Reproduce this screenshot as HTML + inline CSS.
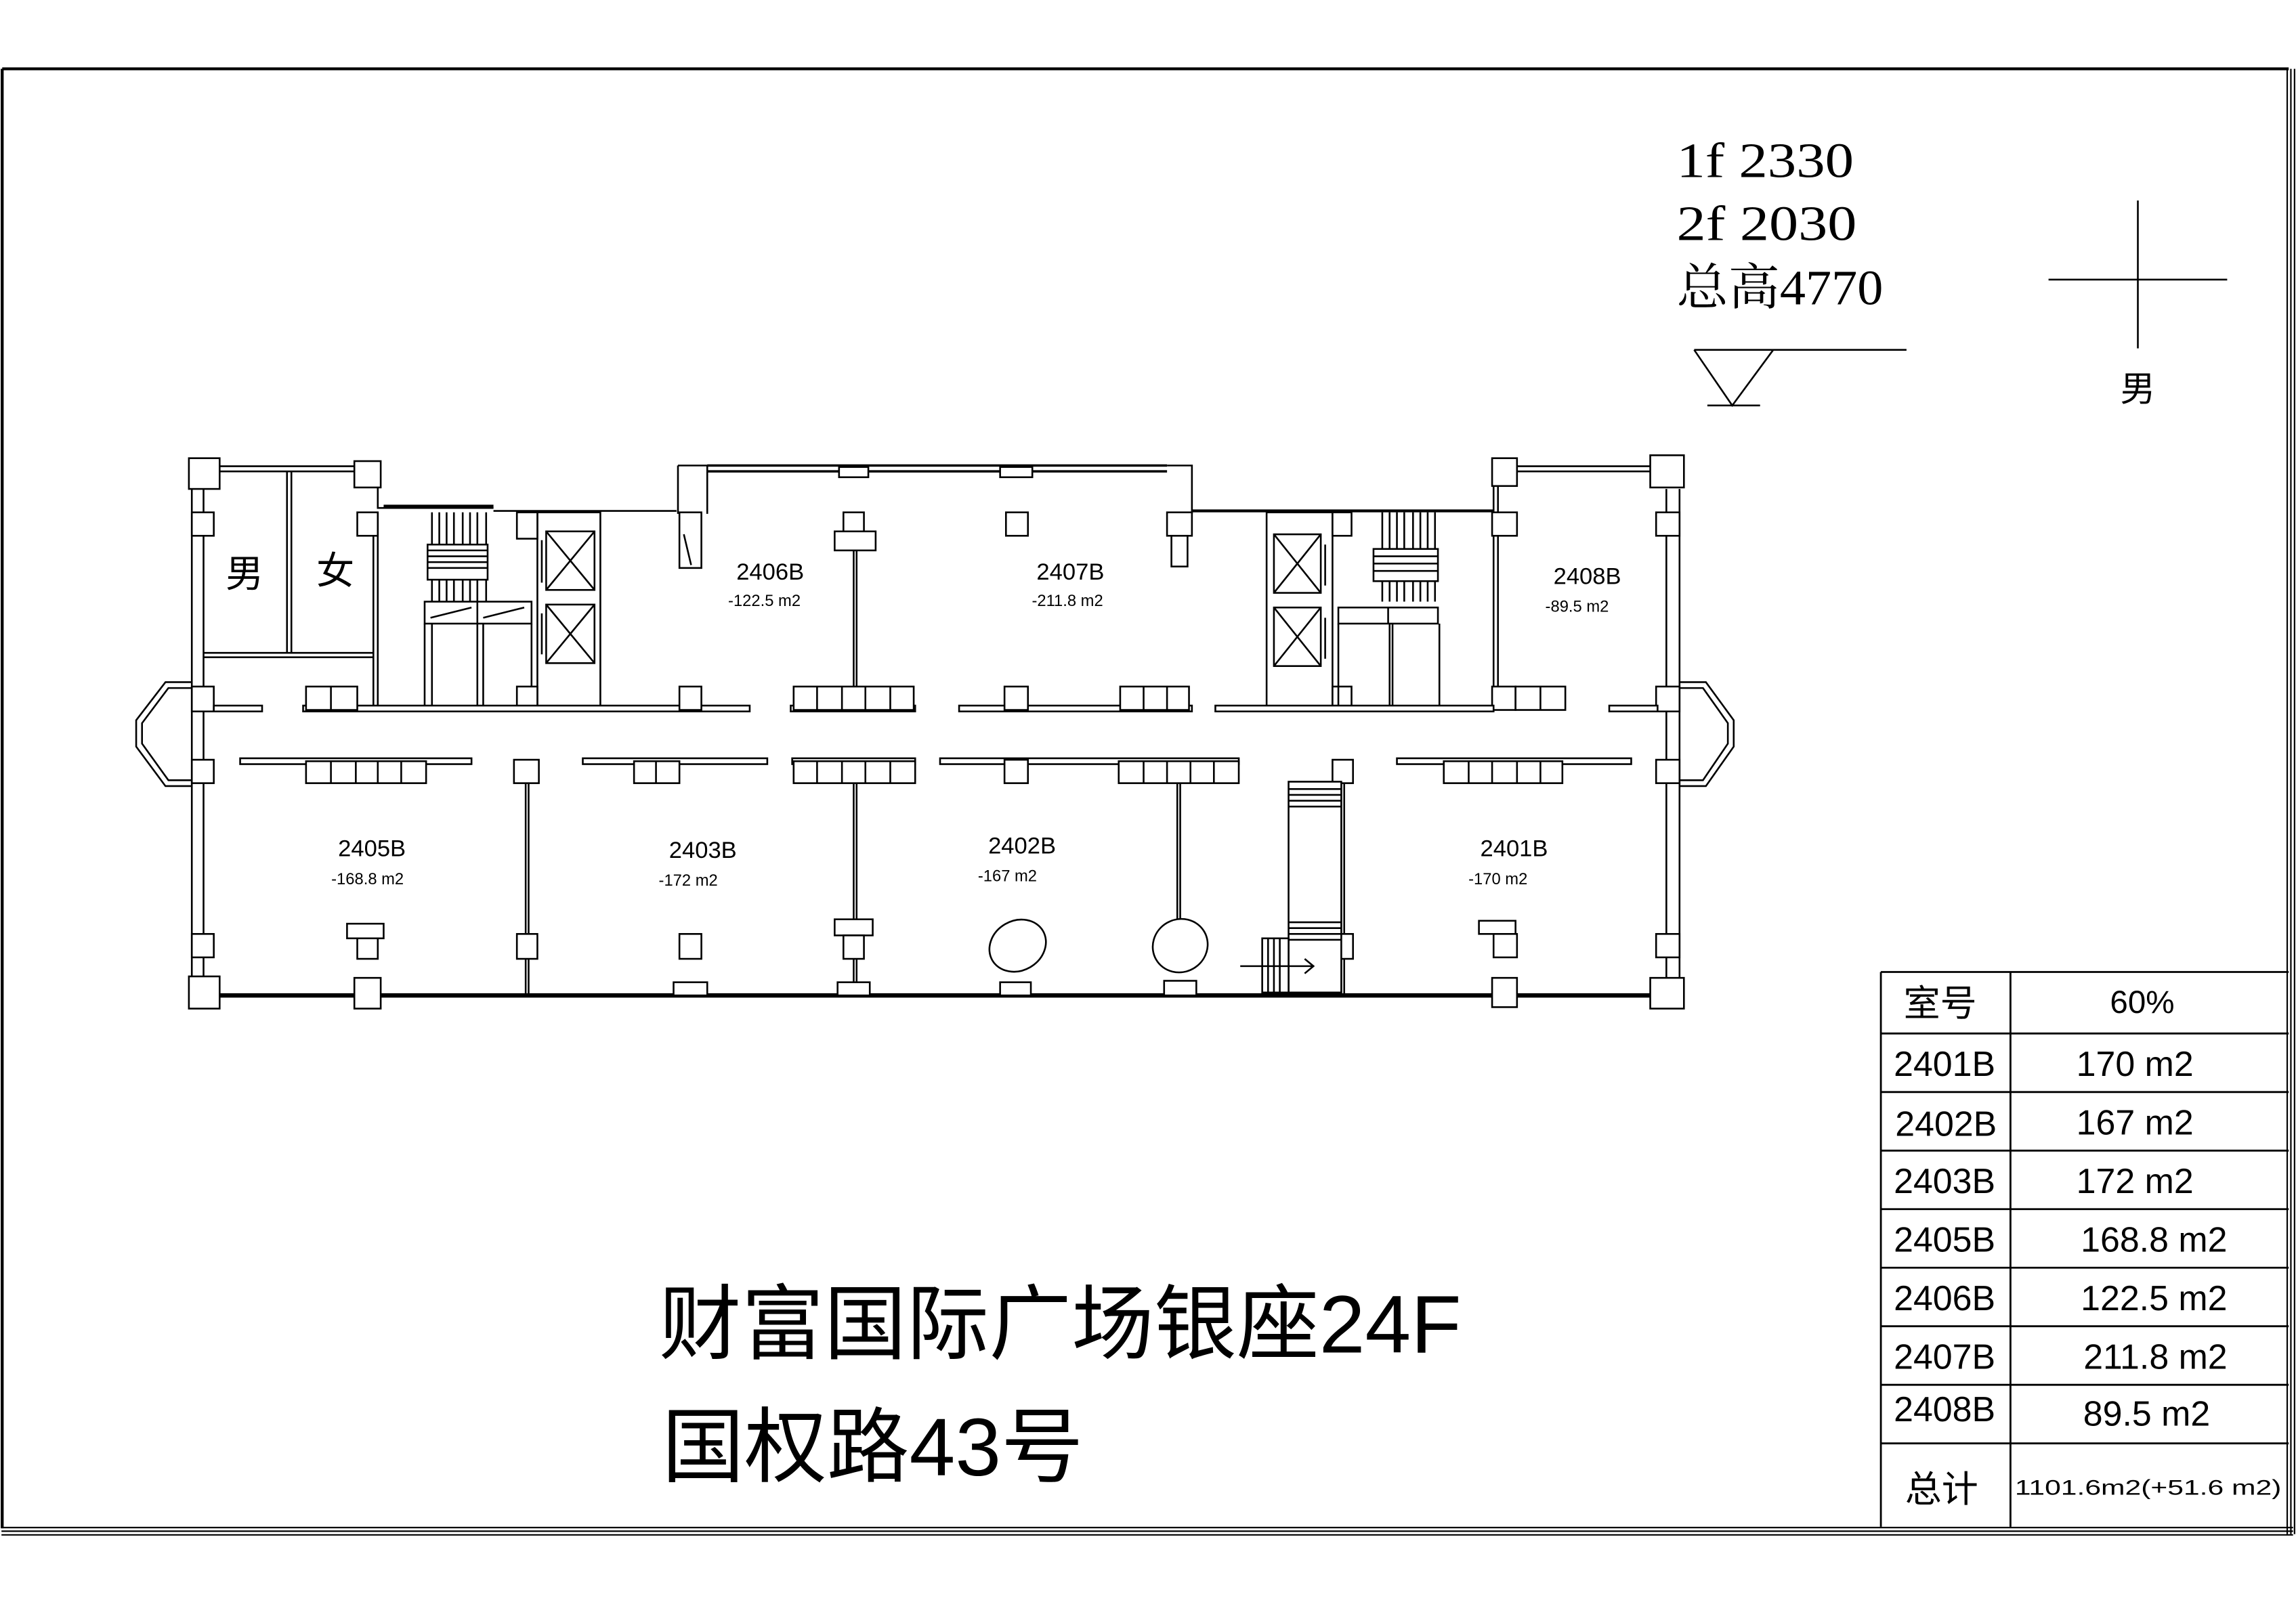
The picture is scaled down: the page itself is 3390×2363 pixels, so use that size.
<!DOCTYPE html>
<html><head><meta charset="utf-8"><style>
html,body{margin:0;padding:0;background:#fff;}
svg{display:block;}
text{font-family:"Liberation Sans","Noto Sans CJK SC",sans-serif;fill:#000;}
.s{font-family:"Liberation Serif","Noto Serif CJK SC",serif;}
</style></head><body>
<svg width="3390" height="2363" viewBox="0 0 1568 1093" preserveAspectRatio="none" xmlns="http://www.w3.org/2000/svg">
<g fill="none" stroke="#000" stroke-width="1.2">
<!-- frame -->
<path d="M1.5 47 H1563 M1.5 47 V1044" stroke-width="2"/>
<path d="M1 1043.5 H1566 M1 1046 H1566 M1 1048.5 H1566" stroke-width="1"/>
<path d="M1562 47 V1048 M1564.5 47 V1048 M1567 47 V1048" stroke-width="1"/>
<!-- level symbol & cross -->
<path d="M1157 239 H1302 M1157 239 L1183 277 L1211 239 M1166 277 H1202"/>
<path d="M1460 137 V238 M1399 191 H1521"/>
</g>
<text class="s" x="1145" y="121" font-size="34" textLength="121" lengthAdjust="spacingAndGlyphs">1f 2330</text>
<text class="s" x="1145" y="164" font-size="34" textLength="123" lengthAdjust="spacingAndGlyphs">2f 2030</text>
<text class="s" x="1145" y="208" font-size="34" textLength="141" lengthAdjust="spacingAndGlyphs">总高4770</text>
<text x="1460" y="274" font-size="24" text-anchor="middle">男</text>

<!-- FLOOR PLAN -->
<g fill="#fff" stroke="#000" stroke-width="1.2">
<!-- outer walls -->
<path d="M140 680 H1132" stroke-width="3" fill="none"/>
<path d="M150 318.5 H242 M150 322 H242 M1036 318.5 H1128 M1036 322 H1128" fill="none"/>
<path d="M483 318 H797 M483 322 H797" stroke-width="1.6" fill="none"/>
<path d="M131 334 V680 M139 334 V680 M1138 334 V680 M1147 334 V680" fill="none"/>
<!-- bay windows -->
<path d="M131 466 H113 L93 492 V510 L113 537 H131 M131 470 H115 L97 494 V508 L115 533 H131" fill="none"/>
<path d="M1147 466 H1165 L1184 492 V510 L1165 537 H1147 M1147 470 H1163 L1180 494 V508 L1163 533 H1147" fill="none"/>
<!-- corner columns -->
<rect x="129" y="313" width="21" height="21"/><rect x="242" y="315" width="18" height="18"/>
<rect x="1019" y="313" width="17" height="19"/><rect x="1127" y="311" width="23" height="22"/>
<rect x="129" y="667" width="21" height="22"/><rect x="242" y="668" width="18" height="21"/>
<rect x="1019" y="668" width="17" height="20"/><rect x="1127" y="668" width="23" height="21"/>
<!-- wall columns left/right -->
<rect x="131" y="350" width="15" height="16"/><rect x="131" y="469" width="15" height="17"/>
<rect x="131" y="519" width="15" height="16"/><rect x="131" y="638" width="15" height="16"/>
<rect x="1131" y="350" width="16" height="16"/><rect x="1131" y="469" width="16" height="17"/>
<rect x="1131" y="519" width="16" height="16"/><rect x="1131" y="638" width="16" height="16"/>
<!-- toilets -->
<path d="M196 322 V446 M199 322 V446 M139 446 H255 M139 449 H255 M255 350 V485 M258 350 V485" fill="none"/>
<path d="M258 333 V347 H337 M337 349 H462" fill="none"/>
<path d="M262 346 H337" stroke-width="2.5" fill="none"/>
<rect x="244" y="350" width="14" height="16"/>
<!-- left stair -->
<path d="M295 350 V411 M300 350 V411 M305 350 V411 M310 350 V411 M316 350 V411 M321 350 V411 M326 350 V411 M332 350 V411" fill="none"/>
<rect x="292" y="372" width="41" height="24"/>
<path d="M292 376 H333 M292 380 H333 M292 384 H333 M292 388 H333" fill="none"/>
<rect x="290" y="411" width="73" height="15"/>
<path d="M326 411 V426 M294 422 L322 415 M330 422 L358 415" fill="none"/>
<path d="M290 426 V485 M295 426 V485 M326 426 V485 M330 426 V485 M363 426 V485" fill="none"/>
<!-- left elevator -->
<rect x="367" y="350" width="43" height="135"/>
<rect x="353" y="350" width="14" height="18"/><rect x="353" y="469" width="14" height="16"/>
<rect x="373" y="363" width="33" height="40"/><path d="M373 363 L406 403 M406 363 L373 403" fill="none"/>
<rect x="373" y="413" width="33" height="40"/><path d="M373 413 L406 453 M406 413 L373 453" fill="none"/>
<path d="M370 369 V398 M370 419 V447" fill="none"/>
<!-- 2406 projection -->
<path d="M463 318 H483 V351 M463 318 V351" fill="none"/>
<rect x="464" y="350" width="15" height="38"/>
<path d="M467 365 L472 386" fill="none"/>
<!-- top wall columns -->
<rect x="573" y="319" width="20" height="7"/><rect x="683" y="319" width="22" height="7"/>
<rect x="576" y="350" width="14" height="15"/><rect x="570" y="363" width="28" height="13"/>
<rect x="687" y="350" width="15" height="16"/>
<path d="M583 376 V470 M585 376 V470" fill="none"/>
<!-- 2407 right projection -->
<path d="M797 318 H814 V351" fill="none"/>
<rect x="797" y="350" width="17" height="16"/><rect x="800" y="366" width="11" height="21"/>
<path d="M814 349 H1020" stroke-width="2" fill="none"/>
<!-- right elevator -->
<rect x="865" y="350" width="45" height="135"/>
<rect x="870" y="365" width="32" height="40"/><path d="M870 365 L902 405 M902 365 L870 405" fill="none"/>
<rect x="870" y="415" width="32" height="40"/><path d="M870 415 L902 455 M902 415 L870 455" fill="none"/>
<path d="M905 372 V400 M905 422 V450" fill="none"/>
<rect x="910" y="350" width="13" height="16"/><rect x="910" y="469" width="13" height="16"/>
<!-- right stair -->
<path d="M944 350 V411 M949 350 V411 M954 350 V411 M959 350 V411 M965 350 V411 M970 350 V411 M975 350 V411 M980 350 V411" fill="none"/>
<rect x="938" y="375" width="44" height="22"/>
<path d="M938 380 H982 M938 385 H982 M938 390 H982" fill="none"/>
<rect x="914" y="415" width="68" height="11"/>
<path d="M948 415 V426" fill="none"/>
<path d="M914 426 V485 M949 426 V485 M951 426 V485 M983 426 V485" fill="none"/>
<!-- 2408 -->
<path d="M1020 332 V470 M1023 332 V470" fill="none"/>
<rect x="1019" y="350" width="17" height="16"/>
<rect x="1019" y="469" width="16" height="16"/>
<!-- upper corridor wall -->
<rect x="146" y="482" width="33" height="4"/>
<rect x="207" y="482" width="305" height="4"/>
<rect x="540" y="482" width="85" height="4"/>
<rect x="655" y="482" width="159" height="4"/>
<rect x="830" y="482" width="190" height="4"/>
<rect x="1099" y="482" width="33" height="4"/>
<!-- upper units -->
<rect x="209" y="469" width="35" height="16"/><path d="M226 469 V485" fill="none"/>
<rect x="464" y="469" width="15" height="16"/>
<rect x="542" y="469" width="82" height="16"/><path d="M558 469 V485 M575 469 V485 M591 469 V485 M608 469 V485" fill="none"/>
<rect x="686" y="469" width="16" height="16"/>
<rect x="765" y="469" width="47" height="16"/><path d="M781 469 V485 M797 469 V485" fill="none"/>
<rect x="1035" y="469" width="34" height="16"/><path d="M1052 469 V485" fill="none"/>
<!-- lower corridor wall -->
<rect x="164" y="518" width="158" height="4"/>
<rect x="398" y="518" width="126" height="4"/>
<rect x="541" y="518" width="84" height="4"/>
<rect x="642" y="518" width="204" height="4"/>
<rect x="954" y="518" width="160" height="4"/>
<!-- lower units -->
<rect x="209" y="520" width="82" height="15"/><path d="M226 520 V535 M243 520 V535 M258 520 V535 M274 520 V535" fill="none"/>
<rect x="351" y="519" width="17" height="16"/>
<rect x="433" y="520" width="31" height="15"/><path d="M448 520 V535" fill="none"/>
<rect x="542" y="520" width="83" height="15"/><path d="M558 520 V535 M575 520 V535 M591 520 V535 M608 520 V535" fill="none"/>
<rect x="686" y="519" width="16" height="16"/>
<rect x="764" y="520" width="82" height="15"/><path d="M781 520 V535 M797 520 V535 M813 520 V535 M829 520 V535" fill="none"/>
<rect x="910" y="519" width="14" height="16"/>
<rect x="986" y="520" width="81" height="15"/><path d="M1003 520 V535 M1019 520 V535 M1036 520 V535 M1052 520 V535" fill="none"/>
<!-- partitions -->
<path d="M359 535 V680 M361 535 V680 M583 535 V680 M585 535 V680 M804 535 V628 M806 535 V628 M916 535 V680 M918 535 V680" fill="none"/>
<!-- lower columns/units -->
<rect x="237" y="631" width="25" height="10"/><rect x="244" y="641" width="14" height="14"/>
<rect x="353" y="638" width="14" height="17"/>
<rect x="464" y="638" width="15" height="17"/>
<rect x="570" y="628" width="26" height="11"/><rect x="576" y="639" width="14" height="16"/>
<rect x="1010" y="629" width="25" height="9"/><rect x="1020" y="638" width="16" height="16"/>
<rect x="910" y="638" width="14" height="17"/>
<rect x="460" y="671" width="23" height="9"/><rect x="572" y="671" width="22" height="9"/>
<rect x="683" y="671" width="21" height="9"/><rect x="795" y="670" width="22" height="10"/>
<ellipse cx="695" cy="646" rx="20" ry="17" transform="rotate(-30 695 646)"/>
<ellipse cx="806" cy="646" rx="19" ry="18" transform="rotate(-30 806 646)"/>
<!-- escalator -->
<rect x="880" y="534" width="36" height="144"/>
<path d="M880 539 H916 M880 543 H916 M880 547 H916 M880 551 H916 M880 630 H916 M880 634 H916 M880 638 H916 M880 642 H916" fill="none"/>
<rect x="862" y="641" width="18" height="37"/>
<path d="M866 641 V678 M870 641 V678 M874 641 V678" fill="none"/>
<path d="M847 660 H897 M891 655 L897 660 L891 665" fill="none"/>
</g>
<!-- plan text -->
<text x="167" y="401" font-size="26" text-anchor="middle">男</text>
<text x="229" y="399" font-size="26" text-anchor="middle">女</text>
<g font-size="16" text-anchor="middle">
<text x="526" y="396">2406B</text><text x="731" y="396">2407B</text><text x="1084" y="399">2408B</text>
<text x="254" y="585">2405B</text><text x="480" y="586">2403B</text><text x="698" y="583">2402B</text><text x="1034" y="585">2401B</text>
</g>
<g font-size="11" text-anchor="middle">
<text x="522" y="414">-122.5 m2</text><text x="729" y="414">-211.8 m2</text><text x="1077" y="418">-89.5 m2</text>
<text x="251" y="604">-168.8 m2</text><text x="470" y="605">-172 m2</text><text x="688" y="602">-167 m2</text><text x="1023" y="604">-170 m2</text>
</g>
<!-- title -->
<text x="450" y="924" font-size="56" textLength="548" lengthAdjust="spacingAndGlyphs">财富国际广场银座24F</text>
<text x="452" y="1008" font-size="56" textLength="288" lengthAdjust="spacingAndGlyphs">国权路43号</text>
<!-- table -->
<g fill="none" stroke="#000" stroke-width="1.3">
<path d="M1284.5 664 H1563 M1284.5 664 V1043 M1373 664 V1043"/>
<path d="M1284 706 H1563 M1284 746 H1563 M1284 786 H1563 M1284 826 H1563 M1284 866 H1563 M1284 906 H1563 M1284 946 H1563 M1284 986 H1563"/>
</g>
<g font-size="24" text-anchor="middle">
<text x="1325" y="694" font-size="25">室号</text>
<text x="1463" y="692" font-size="22">60%</text>
<text x="1328" y="735">2401B</text><text x="1458" y="735">170 m2</text>
<text x="1329" y="776">2402B</text><text x="1458" y="775">167 m2</text>
<text x="1328" y="815">2403B</text><text x="1458" y="815">172 m2</text>
<text x="1328" y="855">2405B</text><text x="1471" y="855">168.8 m2</text>
<text x="1328" y="895">2406B</text><text x="1471" y="895">122.5 m2</text>
<text x="1328" y="935">2407B</text><text x="1472" y="935">211.8 m2</text>
<text x="1328" y="971">2408B</text><text x="1466" y="974">89.5 m2</text>
<text x="1326" y="1026" font-size="25">总计</text>
<text x="1467" y="1021" font-size="14.5" textLength="182" lengthAdjust="spacingAndGlyphs">1101.6m2(+51.6 m2)</text>
</g>
</svg>
</body></html>
